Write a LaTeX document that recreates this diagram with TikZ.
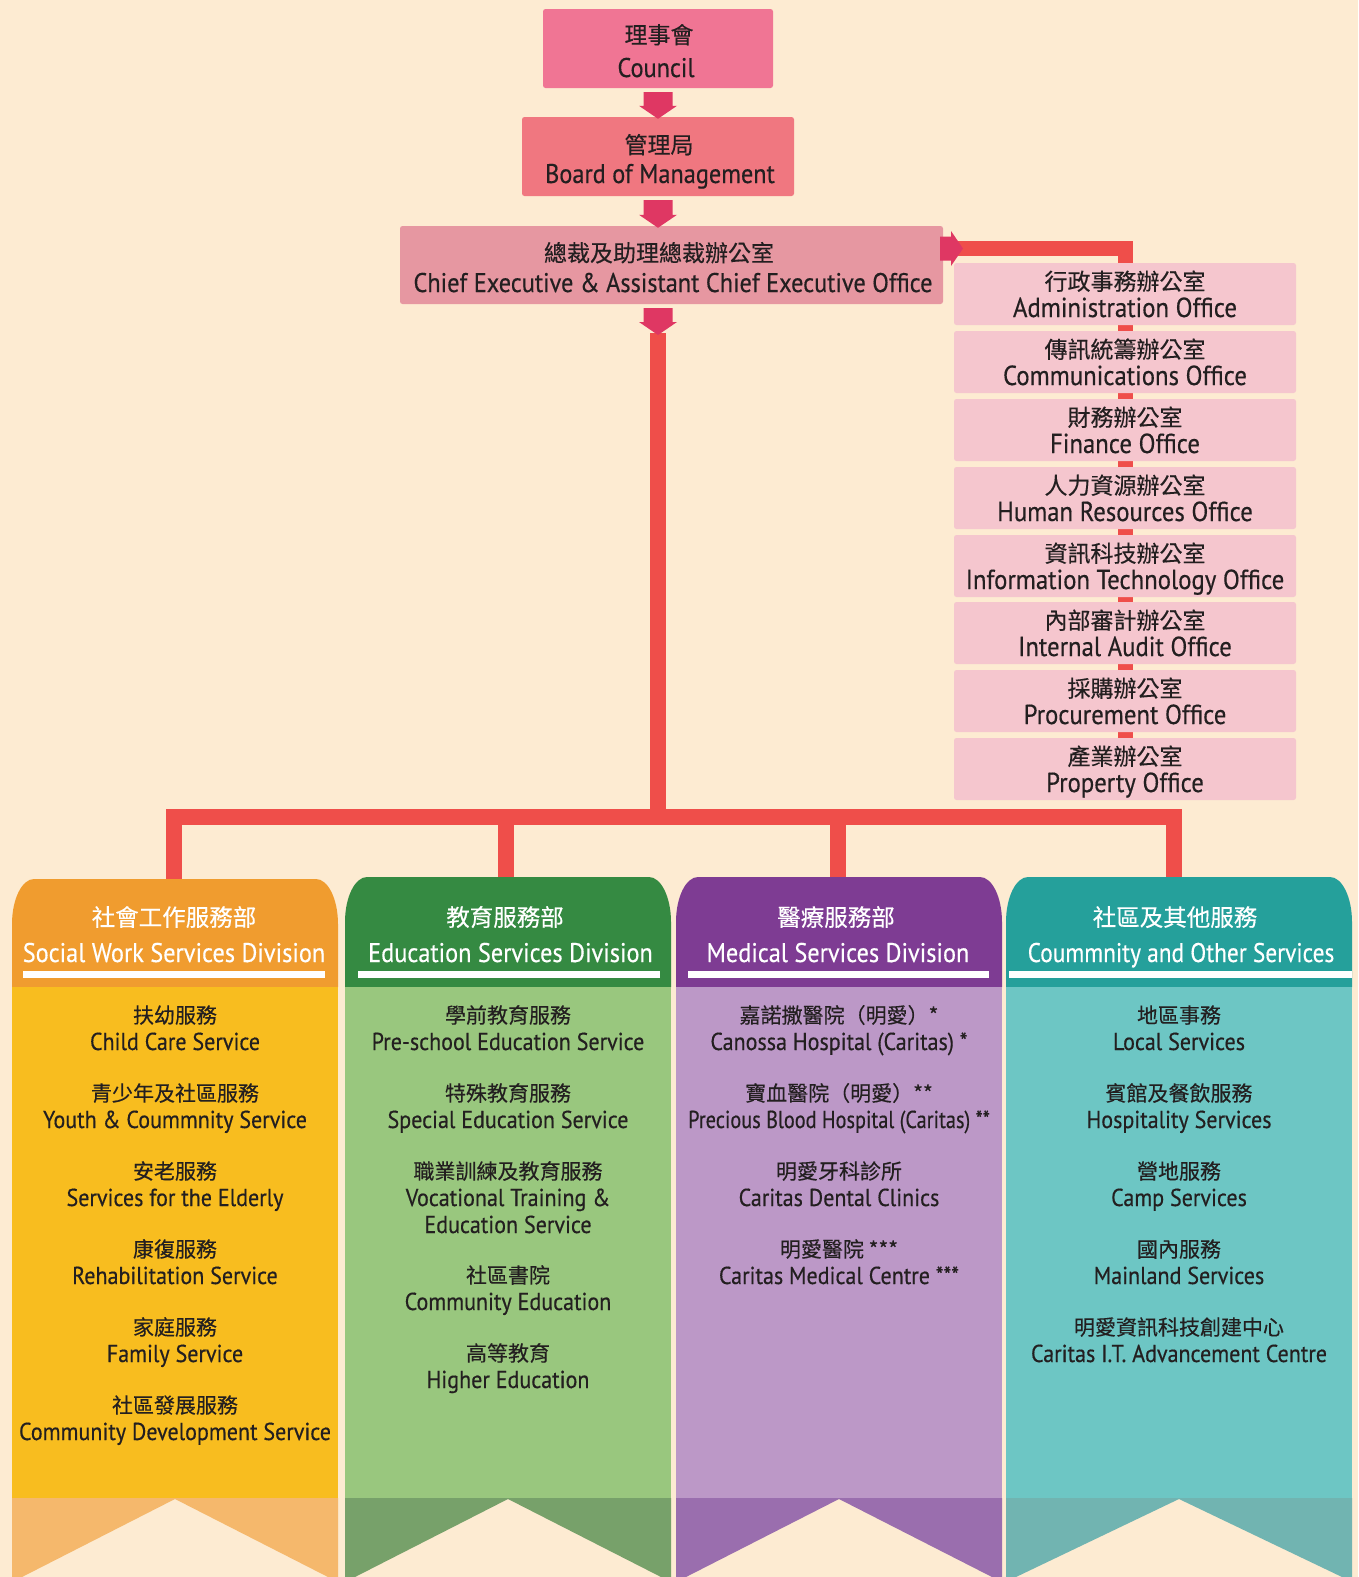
\documentclass[tikz,border=0pt]{standalone}
\usepackage{fontspec}
\setmainfont[FakeStretch=0.9,FakeBold=0.4]{PT Sans}
\newfontfamily\cjk[FakeBold=0.3]{Noto Sans CJK TC}
\usetikzlibrary{calc}
\definecolor{bg}{HTML}{FDEBD2}
\definecolor{ink}{HTML}{231F20}
\definecolor{council}{HTML}{F07594}
\definecolor{board}{HTML}{F07780}
\definecolor{chief}{HTML}{E697A1}
\definecolor{rbox}{HTML}{F5C6CE}
\definecolor{arrc}{HTML}{DF3763}
\definecolor{redline}{HTML}{EF4E4A}
\definecolor{orH}{HTML}{F09C2F}
\definecolor{orB}{HTML}{F8BD1F}
\definecolor{orT}{HTML}{F5B86C}
\definecolor{grH}{HTML}{358A42}
\definecolor{grB}{HTML}{99C77E}
\definecolor{grT}{HTML}{77A16A}
\definecolor{puH}{HTML}{7E3C93}
\definecolor{puB}{HTML}{BC98C7}
\definecolor{puT}{HTML}{9A6EAE}
\definecolor{teH}{HTML}{25A09B}
\definecolor{teB}{HTML}{6DC6C4}
\definecolor{teT}{HTML}{71B4B1}
\newcommand\svc[5]{%
  \node[cj] (#1c) at (#2,#3) {#4};
  \node[en] (#1e) at (#2,#3+27) {#5};}
\newcommand\officebox[4]{%
  \node[boxs, fill=rbox, minimum width=342pt, minimum height=62pt] (#1) at (1125,#2+31) {};
  \node[tcj] (#1c) at (1125,#2+27) {#3};
  \node[ren] (#1e) at (1125,#2+54) {#4};}
\newcommand\dnarrow[2]{%
  \fill[arrc] let \p1=(#1.south), \p2=(#2.north), \p3=(trunk) in
    (\x3-14.5pt,\y1-4pt) -- (\x3+14.5pt,\y1-4pt) -- (\x3+14.5pt,\y2+11pt) --
    (\x3+19pt,\y2+11pt) -- (\x3,\y2-2pt) -- (\x3-19pt,\y2+11pt) --
    (\x3-14.5pt,\y2+11pt) -- cycle;}
\newcommand\divcol[8]{%
  \fill[#4] (#1,987) -- (#1,#3+45) .. controls (#1,#3+20) and (#1+10,#3) .. (#1+22,#3)
    -- (#2-22,#3) .. controls (#2-10,#3) and (#2,#3+20) .. (#2,#3+45) -- (#2,987) -- cycle;
  \fill[#5] (#1,987) rectangle (#2,1498);
  \fill[#6] (#1,1498) -- (#2,1498) -- (#2,1577) -- (#2-10,1577) -- ({(#1+#2)/2},1499)
    -- (#1+10,1577) -- (#1,1577) -- cycle;
  \fill[white] (#7,971) rectangle (#8,978);}
\begin{document}
\begin{tikzpicture}[x=1pt,y=-1pt,
  redl/.style={draw=redline, line width=16pt},
  boxs/.style={rectangle, rounded corners=2.5pt, inner sep=0pt, draw=none},
  cj/.style={font=\cjk\fontsize{21}{23}\selectfont, text=ink, inner sep=0pt, anchor=base},
  en/.style={font=\fontsize{24.5}{26}\selectfont, text=ink, inner sep=0pt, anchor=base},
  hcj/.style={font=\cjk\fontsize{23.5}{26}\selectfont, text=white, inner sep=0pt, anchor=base},
  hen/.style={font=\fontsize{27}{28}\selectfont, text=white, inner sep=0pt, anchor=base},
  tcj/.style={font=\cjk\fontsize{23}{25}\selectfont, text=ink, inner sep=0pt, anchor=base},
  ten/.style={font=\fontsize{27}{28}\selectfont, text=ink, inner sep=0pt, anchor=base},
  ren/.style={font=\fontsize{27.5}{29}\selectfont, text=ink, inner sep=0pt, anchor=base},
]
\useasboundingbox (0,0) rectangle (1358,1577);
\fill[bg] (0,0) rectangle (1358,1577);

% anchor points
\coordinate (sideout) at (943,248.5);
\node[inner sep=0pt, outer sep=0pt, minimum size=0pt] (trunk) at (658,333) {};
\coordinate (bus) at (658,817);
\coordinate (h1) at (174,882);
\coordinate (h2) at (506,880);
\coordinate (h3) at (838,880);
\coordinate (h4) at (1174,880);

% top boxes
\node[boxs, fill=council, minimum width=230pt, minimum height=79pt] (council) at (658,48.5) {};
\node[boxs, fill=board, minimum width=272pt, minimum height=79pt] (board) at (658,156.5) {};
\node[boxs, fill=chief, minimum width=543pt, minimum height=78pt] (chief) at (671.5,265) {};

% office column: connector first
\coordinate (propc) at (1125,769);
\draw[draw=redline, line width=15pt] (sideout) -| (propc);
\officebox{admin}{263}{行政事務辦公室}{Administration Office}
\officebox{comm}{331}{傳訊統籌辦公室}{Communications Office}
\officebox{fin}{399}{財務辦公室}{Finance Office}
\officebox{hr}{467}{人力資源辦公室}{Human Resources Office}
\officebox{it}{535}{資訊科技辦公室}{Information Technology Office}
\officebox{audit}{602}{內部審計辦公室}{Internal Audit Office}
\officebox{proc}{670}{採購辦公室}{Procurement Office}
\officebox{prop}{738}{產業辦公室}{Property Office}

% main trunk and bus
\draw[redl] (trunk) -- (bus);
\draw[redl] (h1) |- (bus) -| (h4);
\draw[redl] (h2) -- (h2 |- bus);
\draw[redl] (h3) -- (h3 |- bus);

% arrows
\dnarrow{council}{board}
\dnarrow{board}{chief}
\dnarrow{chief}{trunk}
\fill[arrc] let \p1=(sideout) in
  (\x1-3pt,\y1+12pt) -- (\x1+8pt,\y1+12pt) -- (\x1+8pt,\y1+17.5pt) -- (\x1+20pt,\y1) --
  (\x1+8pt,\y1-17.5pt) -- (\x1+8pt,\y1-12pt) -- (\x1-3pt,\y1-12pt) -- cycle;

% top texts
\node[tcj] (councilc) at (659,43.5) {理事會};
\node[ten] (councile) at (656,77) {Council};
\node[tcj] (boardc) at (659,153.5) {管理局};
\node[ten] (boarde) at (660,183) {Board of Management};
\node[tcj] (chiefc) at (659,261.5) {總裁及助理總裁辦公室};
\node[ten] (chiefe) at (673,292) {Chief Executive \& Assistant Chief Executive Office};

% division columns
\divcol{12}{338}{879}{orH}{orB}{orT}{23}{325}
\divcol{345}{671}{877}{grH}{grB}{grT}{358}{660}
\divcol{676}{1002}{877}{puH}{puB}{puT}{688}{989}
\divcol{1006}{1352}{877}{teH}{teB}{teT}{1009}{1352}

\node[hcj] (d1c) at (174,926) {社會工作服務部};
\node[hen] (d1e) at (174,962) {Social Work Services Division};
\node[hcj] (d2c) at (505,926) {教育服務部};
\node[hen] (d2e) at (510.5,962) {Education Services Division};
\node[hcj] (d3c) at (836,926) {醫療服務部};
\node[hen] (d3e) at (838,962) {Medical Services Division};
\node[hcj] (d4c) at (1175,926) {社區及其他服務};
\node[hen] (d4e) at (1181,962) {\scalebox{0.96}[1]{Coummnity and Other Services}};

% column 1
\svc{s1}{175}{1023}{扶幼服務}{Child Care Service}
\svc{s2}{175}{1101}{青少年及社區服務}{Youth \& Coummnity Service}
\svc{s3}{175}{1179}{安老服務}{Services for the Elderly}
\svc{s4}{175}{1257}{康復服務}{Rehabilitation Service}
\svc{s5}{175}{1335}{家庭服務}{Family Service}
\svc{s6}{175}{1413}{社區發展服務}{Community Development Service}
% column 2
\svc{e1}{508}{1023}{學前教育服務}{Pre-school Education Service}
\svc{e2}{508}{1101}{特殊教育服務}{Special Education Service}
\svc{e3}{508}{1179}{職業訓練及教育服務}{Vocational Training \&}
\node[en] (e3f) at (508,1233) {Education Service};
\svc{e4}{508}{1283}{社區書院}{Community Education}
\svc{e5}{508}{1361}{高等教育}{Higher Education}
% column 3
\svc{m1}{839}{1023}{嘉諾撒醫院（明愛）*}{Canossa Hospital (Caritas) *}
\svc{m2}{839}{1101}{寶血醫院（明愛）**}{\scalebox{0.92}[1]{Precious Blood Hospital (Caritas) **}}
\svc{m3}{839}{1179}{明愛牙科診所}{Caritas Dental Clinics}
\svc{m4}{839}{1257}{明愛醫院 ***}{Caritas Medical Centre ***}
% column 4
\svc{c1}{1179}{1023}{地區事務}{Local Services}
\svc{c2}{1179}{1101}{賓館及餐飲服務}{Hospitality Services}
\svc{c3}{1179}{1179}{營地服務}{Camp Services}
\svc{c4}{1179}{1257}{國內服務}{Mainland Services}
\svc{c5}{1179}{1335}{明愛資訊科技創建中心}{Caritas I.T. Advancement Centre}
\end{tikzpicture}
\end{document}
